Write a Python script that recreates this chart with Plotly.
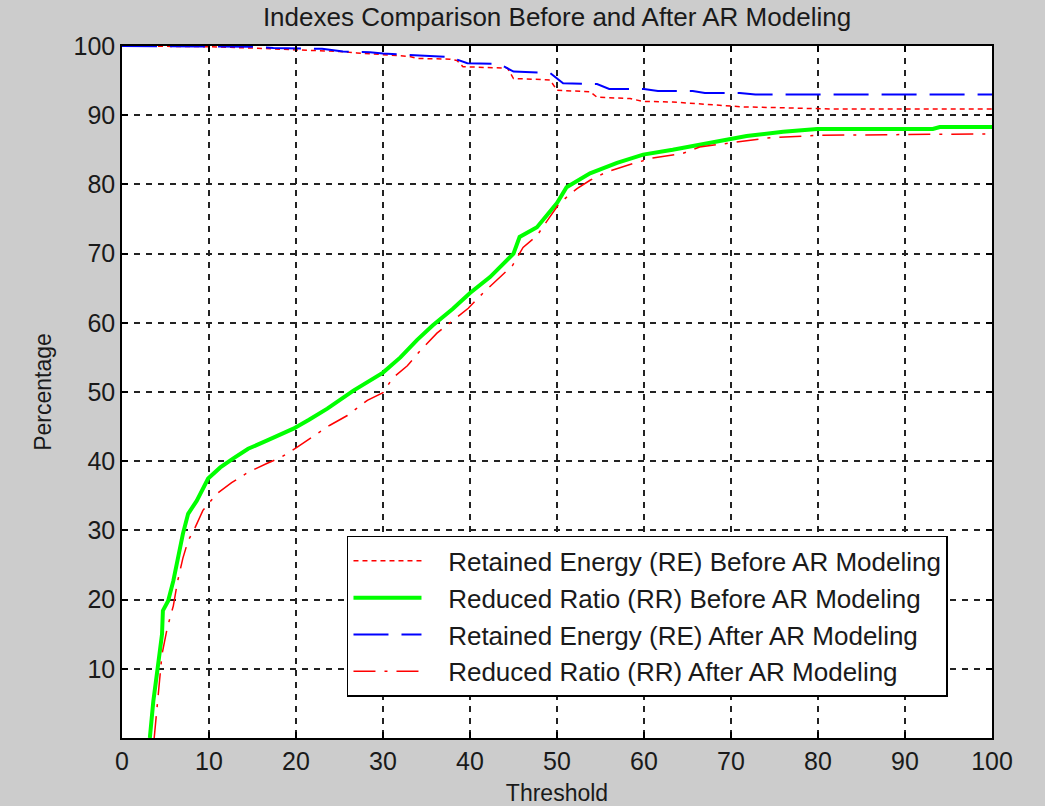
import plotly.graph_objects as go

# Retained Energy (RE) before AR modeling
re_before_t = [0, 10, 15, 17, 20, 23, 25, 27, 31, 33, 34, 37.7, 38.5, 39.2, 44.3, 45, 49.2,
               50, 53.8, 54.6, 58.4, 59.9, 63.3, 67.6, 71.4, 75, 81.4, 100]
re_before_v = [100, 99.9, 99.7, 99.6, 99.5, 99.3, 99.2, 99.0, 98.6, 98.5, 98.2, 98.1, 97.9,
               97.0, 96.8, 95.3, 95.1, 93.6, 93.4, 92.6, 92.4, 92.0, 91.9, 91.5, 91.2, 91.1,
               90.9, 90.9]

# Reduced Ratio (RR) before AR modeling
rr_before_t = [3.2, 3.6, 4.1, 4.6, 4.7, 5.3, 5.9, 6.4, 7.0, 7.6, 8.6, 9.9, 11.3, 12.8, 14.5,
               16.7, 19.7, 21.5, 23.6, 26.6, 30.0, 32.0, 33.9, 35.7, 38.0, 40.0, 42.3, 45.0,
               45.7, 47.7, 50.0, 51.1, 53.8, 56.9, 59.9, 63.3, 66.4, 71.8, 76.0, 79.9, 85.0,
               93.2, 94.0, 100]
rr_before_v = [0, 5.3, 10.1, 15.0, 18.4, 19.8, 22.7, 26.0, 29.5, 32.4, 34.3, 37.5, 39.1,
               40.4, 41.8, 43.0, 44.7, 46.0, 47.6, 50.2, 52.8, 55.0, 57.5, 59.6, 62.0, 64.3,
               66.6, 70.0, 72.4, 73.8, 77.3, 79.6, 81.6, 83.1, 84.3, 85.0, 85.7, 87.0, 87.6,
               88.0, 88.0, 88.0, 88.3, 88.3]

# Retained Energy (RE) after AR modeling
re_after_t = [0, 15, 17.4, 23, 25.4, 28.5, 30, 33.9, 37.7, 39.7, 43.4, 45, 49.2, 50.7, 54.6,
              56, 60, 61.6, 65.6, 67, 71, 72.8, 100]
re_after_v = [100, 99.9, 99.7, 99.6, 99.2, 99.1, 98.9, 98.7, 98.4, 97.5, 97.4, 96.3, 96.1,
              94.6, 94.5, 93.8, 93.8, 93.5, 93.5, 93.2, 93.2, 93.0, 93.0]

# Reduced Ratio (RR) after AR modeling
rr_after_t = [3.7, 4.1, 4.6, 5.2, 5.9, 6.4, 7.0, 7.6, 8.4, 9.3, 10.9, 12.6, 14.5, 16.7, 18.2,
              20.1, 22.4, 23.9, 25.9, 28.2, 30.0, 31.1, 32.8, 34.3, 36.2, 38.0, 39.8, 41.5,
              43.4, 44.9, 46.1, 47.7, 48.9, 50.3, 52.3, 53.8, 55.7, 58.7, 61.0, 64.5, 66.4,
              70.2, 74.1, 79.9, 90, 100]
rr_after_v = [0, 5.3, 12.1, 15.9, 19.1, 22.7, 26.0, 28.5, 30.4, 32.9, 35.3, 36.9, 38.4, 39.7,
              40.5, 42.0, 44.0, 45.2, 46.6, 48.8, 49.9, 52.0, 53.8, 56.0, 58.5, 60.3, 62.1,
              64.3, 66.6, 68.3, 70.9, 72.6, 74.8, 77.3, 79.4, 80.6, 81.8, 83.0, 83.8, 84.5,
              85.4, 86.0, 86.7, 87.1, 87.2, 87.3]

x_ticks = [0, 10, 20, 30, 40, 50, 60, 70, 80, 90, 100]
y_ticks = [10, 20, 30, 40, 50, 60, 70, 80, 90, 100]

FONT = "Liberation Sans, Arial, sans-serif"
PAD = "\u00a0\u00a0\u00a0"  # gap between legend sample and its label

fig = go.Figure()
fig.add_trace(go.Scatter(
    x=re_before_t, y=re_before_v, mode="lines",
    name=PAD + "Retained Energy (RE) Before AR Modeling",
    line=dict(color="#ff0000", width=1.5, dash="5px,4px"),
))
fig.add_trace(go.Scatter(
    x=rr_before_t, y=rr_before_v, mode="lines",
    name=PAD + "Reduced Ratio (RR) Before AR Modeling",
    line=dict(color="#00ff00", width=4),
))
fig.add_trace(go.Scatter(
    x=re_after_t, y=re_after_v, mode="lines",
    name=PAD + "Retained Energy (RE) After AR Modeling",
    line=dict(color="#0000ff", width=2, dash="35px,13px"),
))
fig.add_trace(go.Scatter(
    x=rr_after_t, y=rr_after_v, mode="lines",
    name=PAD + "Reduced Ratio (RR) After AR Modeling",
    line=dict(color="#ff0000", width=1.5, dash="22px,9px,3px,9px"),
))

axis_common = dict(
    showline=True, linecolor="black", linewidth=1.5, mirror="ticks",
    ticks="inside", ticklen=6, tickcolor="black", tickwidth=1.5,
    showgrid=True, gridcolor="#222222", gridwidth=1.5, griddash="6px,6px",
    zeroline=False, automargin=False,
    tickfont=dict(family=FONT, size=25, color="#1a1a1a"),
)

fig.update_xaxes(range=[0, 100], tickvals=x_ticks, ticktext=[str(v) for v in x_ticks],
                 title=dict(text="Threshold", font=dict(family=FONT, size=23, color="#1a1a1a")),
                 **axis_common)
fig.update_yaxes(range=[0, 100], tickvals=y_ticks, ticktext=[str(v) for v in y_ticks],
                 title=dict(text="Percentage", font=dict(family=FONT, size=23, color="#1a1a1a")),
                 **axis_common)

fig.update_layout(
    width=1045, height=806,
    margin=dict(l=122, r=53, t=46, b=68),
    paper_bgcolor="#cccccc", plot_bgcolor="white",
    title=dict(text="Indexes Comparison Before and After AR Modeling",
               font=dict(family="Liberation Sans Narrow, Arial Narrow, " + FONT, size=26,
                         color="#1a1a1a"),
               x=0.5, xref="paper", xanchor="center", y=0.979, yanchor="middle"),
    legend=dict(x=0.2586, y=0.292, xanchor="left", yanchor="top",
                bgcolor="white", bordercolor="black", borderwidth=1.5,
                font=dict(family=FONT, size=26, color="#1a1a1a"),
                itemwidth=68, tracegroupgap=0),
    showlegend=True,
)

fig.write_html("out.html")
